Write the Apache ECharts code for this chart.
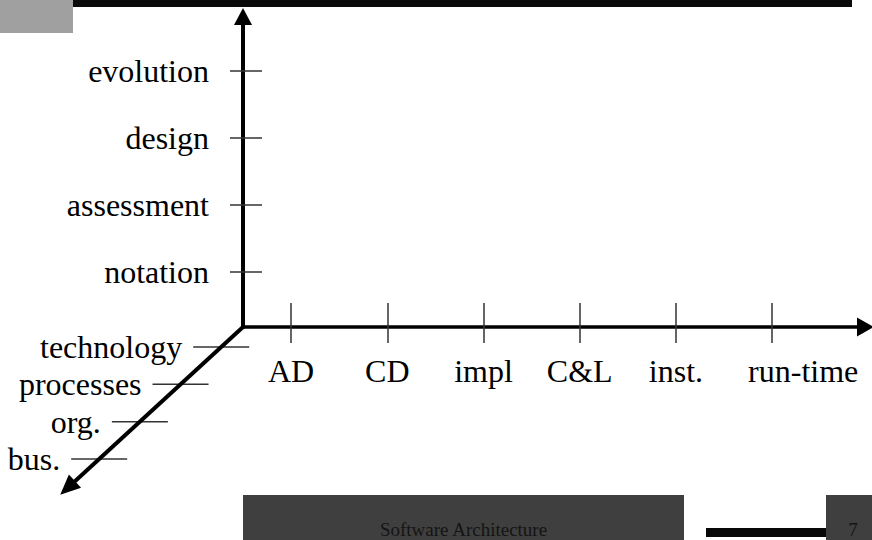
<!DOCTYPE html>
<html><head><meta charset="utf-8">
<script src="https://cdn.jsdelivr.net/npm/echarts@6/dist/echarts.min.js"></script>
<style>html,body{margin:0;padding:0;background:#fff}#c{width:872px;height:540px}</style>
</head><body><div id="c"></div>
<script>
// ---- data ----
const stages = ['AD', 'CD', 'impl', 'C&L', 'inst.', 'run-time'];
const concerns = ['notation', 'assessment', 'design', 'evolution'];
const scopes = ['technology', 'processes', 'org.', 'bus.'];
const footerTitle = 'Software Architecture';
const pageNumber = '7';

// ---- layout / style ----
const FONT = 'Liberation Serif';
const stageIdx = stages.map((s, i) => i);
const concernIdx = concerns.map((s, i) => i);
const X_MIN = -0.5, X_MAX = 5.97;
const Y_MIN = -0.82, Y_MAX = 3.81;
const D_MIN = -0.536, D_MAX = 3.777;
const mainGrid = { left: 243, top: 16.5, right: 6.5, bottom: 213 };
const tickStyle = { color: '#333', width: 1.5 };
const lastStage = stages.length - 1;

const chart = echarts.init(document.getElementById('c'), null, { renderer: 'svg' });
chart.setOption({
  animation: false,
  backgroundColor: '#fff',
  grid: [
    Object.assign({}, mainGrid),
    Object.assign({}, mainGrid),
    { left: 67.6, top: 327, width: 175.4, height: 161 }
  ],
  xAxis: [
    {
      type: 'value', gridIndex: 0, min: X_MIN, max: X_MAX,
      splitLine: { show: false },
      axisLine: { show: true, onZero: false, symbol: ['none', 'triangle'], symbolSize: [19, 17],
        lineStyle: { color: '#000', width: 3.5 } },
      axisTick: { show: true, inside: false, length: 16, customValues: stageIdx, lineStyle: tickStyle },
      axisLabel: {
        show: true, customValues: stageIdx, margin: 28,
        fontFamily: FONT, fontSize: 32, color: '#000',
        formatter: v => {
          const i = Math.round(v);
          return i === lastStage ? '{r|' + stages[i] + '}' : stages[i];
        },
        rich: { r: { padding: [0, 0, 0, 62], fontFamily: FONT, fontSize: 32, color: '#000' } }
      }
    },
    {
      type: 'value', gridIndex: 1, min: X_MIN, max: X_MAX,
      splitLine: { show: false },
      axisLine: { show: false, onZero: false },
      axisTick: { show: true, inside: true, length: 24, customValues: stageIdx, lineStyle: tickStyle },
      axisLabel: { show: false }
    },
    {
      type: 'value', gridIndex: 2, min: D_MIN, max: D_MAX, inverse: true, show: false
    }
  ],
  yAxis: [
    {
      type: 'value', gridIndex: 0, min: Y_MIN, max: Y_MAX,
      splitLine: { show: false },
      axisLine: { show: true, onZero: false, symbol: ['none', 'triangle'], symbolSize: [18, 17],
        lineStyle: { color: '#000', width: 4 } },
      axisTick: { show: true, inside: false, length: 13, customValues: concernIdx, lineStyle: tickStyle },
      axisLabel: {
        show: true, customValues: concernIdx, margin: 34,
        fontFamily: FONT, fontSize: 32, color: '#000',
        formatter: v => concerns[Math.round(v)]
      }
    },
    {
      type: 'value', gridIndex: 1, min: Y_MIN, max: Y_MAX,
      splitLine: { show: false },
      axisLine: { show: false, onZero: false },
      axisTick: { show: true, inside: true, length: 19, customValues: concernIdx, lineStyle: tickStyle },
      axisLabel: { show: false }
    },
    {
      type: 'value', gridIndex: 2, min: D_MIN, max: D_MAX, inverse: true, show: false
    }
  ],
  series: [
    {
      type: 'scatter', xAxisIndex: 2, yAxisIndex: 2, clip: false, silent: true,
      symbol: 'rect', symbolSize: [56, 1.5],
      itemStyle: { color: '#333', opacity: 1 },
      data: scopes.map((name, i) => ({ name, value: [i, i] })),
      label: {
        show: true, position: 'left', distance: 11, formatter: '{b}',
        fontFamily: FONT, fontSize: 32, color: '#000', opacity: 1
      },
      markLine: {
        silent: true, symbol: ['none', 'triangle'], symbolSize: [18, 20],
        label: { show: false },
        lineStyle: { color: '#000', width: 4, type: 'solid', opacity: 1 },
        data: [[{ coord: [D_MIN, D_MIN] }, { coord: [D_MAX, D_MAX] }]]
      }
    }
  ],
  graphic: [
    { type: 'rect', shape: { x: 0, y: 0, width: 73, height: 33 }, style: { fill: '#a0a0a0' } },
    { type: 'rect', shape: { x: 73, y: 0, width: 779, height: 7 }, style: { fill: '#0a0a0a' } },
    { type: 'rect', shape: { x: 243, y: 495, width: 441, height: 45 }, style: { fill: '#3f3f3f' } },
    { type: 'rect', shape: { x: 706, y: 528, width: 120, height: 9 }, style: { fill: '#080808' } },
    { type: 'rect', shape: { x: 826, y: 495, width: 46, height: 45 }, style: { fill: '#3f3f3f' } },
    { type: 'text', x: 463.5, y: 529, style: { text: footerTitle, fontFamily: FONT, fontSize: 19,
        fill: '#141414', textAlign: 'center', textVerticalAlign: 'middle' } },
    { type: 'text', x: 853, y: 529, style: { text: pageNumber, fontFamily: FONT, fontSize: 19,
        fill: '#141414', textAlign: 'center', textVerticalAlign: 'middle' } }
  ]
});
</script>
</body></html>
